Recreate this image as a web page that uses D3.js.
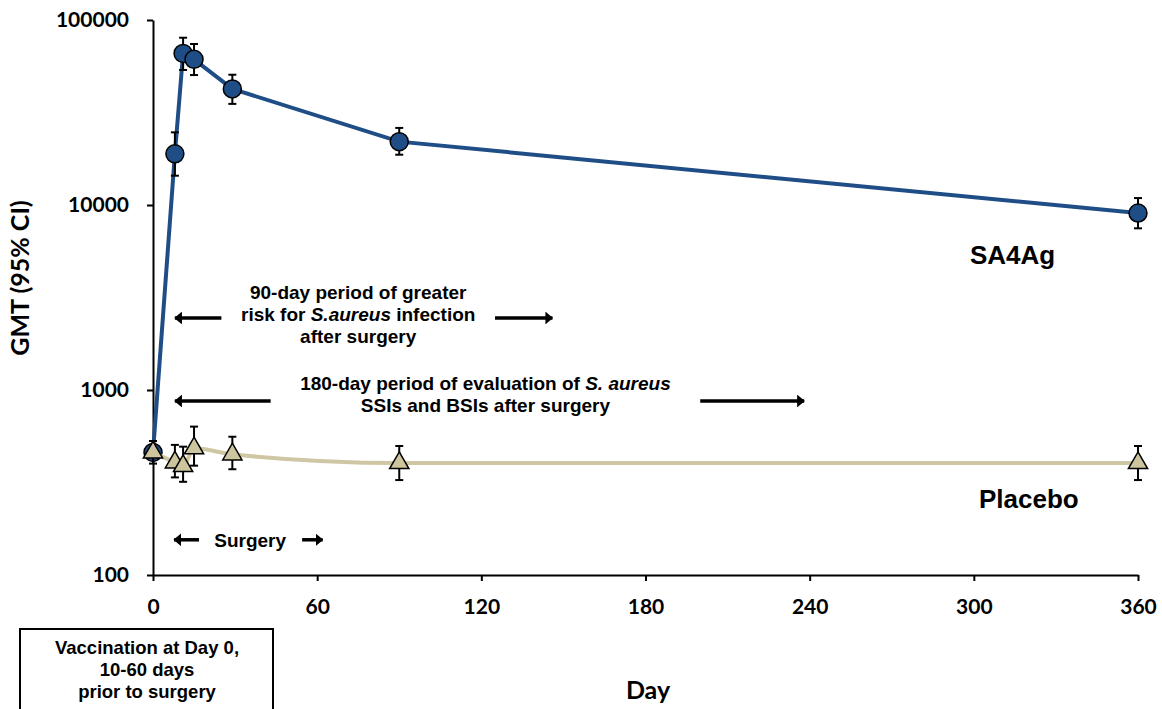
<!DOCTYPE html>
<html>
<head>
<meta charset="utf-8">
<script src="https://cdn.jsdelivr.net/npm/d3@7"></script>
<style>
  body { margin: 0; background: #fff; }
  svg text { fill: #000; }
  .tick-label { font-family: Lato, "Liberation Sans", sans-serif; font-weight: 700; font-size: 21px; }
  .note { font-family: "Liberation Sans", Arial, sans-serif; font-weight: 700; font-size: 19px; }
</style>
</head>
<body>
<svg id="chart" width="1162" height="709"></svg>
<script>
// Study days sampled
const days = [0, 8, 11, 15, 29, 90, 360];

// SA4Ag GMT with 95% CI
const sa4agGmt = [460, 18900, 66000, 61300, 42400, 22000, 9050];
const sa4agLow = [420, 14400, 53700, 50400, 35200, 18700, 7480];
const sa4agHigh = [500, 24700, 80200, 74200, 50600, 26100, 10900];

// Placebo GMT with 95% CI
const placeboGmt = [460, 406, 388, 484, 449, 403, 403];
const placeboLow = [400, 337, 319, 390, 373, 326, 326];
const placeboHigh = [530, 505, 494, 634, 559, 498, 498];

const xTicks = [0, 60, 120, 180, 240, 300, 360];
const yTicks = [100, 1000, 10000, 100000];

const BLUE = "#1f4e87";
const TAN_LINE = "#cfc6a3";
const TAN_FILL = "#cdc59d";

const svg = d3.select("#chart");

const x = d3.scaleLinear().domain([0, 360]).range([153, 1138]);
const y = d3.scaleLog().domain([100, 100000]).range([575, 20]);

const toRows = (gmt, low, high) => days.map((d, i) => ({day: d, gmt: gmt[i], low: low[i], high: high[i]}));
const sa4ag = toRows(sa4agGmt, sa4agLow, sa4agHigh);
const placebo = toRows(placeboGmt, placeboLow, placeboHigh);

// axes
const yAxis = d3.axisLeft(y).tickValues(yTicks).tickFormat(d3.format("d"))
  .tickSizeInner(6).tickSizeOuter(0).tickPadding(18);
const xAxis = d3.axisBottom(x).tickValues(xTicks).tickFormat(d3.format("d"))
  .tickSizeInner(6).tickSizeOuter(0).tickPadding(18);

const gy = svg.append("g").attr("transform", `translate(${x(0)},0)`).call(yAxis);
const gx = svg.append("g").attr("transform", `translate(0,${y(100)})`).call(xAxis);
[gx, gy].forEach(g => {
  g.selectAll("path, line").attr("stroke", "#000").attr("stroke-width", 2);
  g.selectAll("text").attr("class", "tick-label").attr("fill", "#000");
});

svg.append("text")
  .attr("class", "tick-label")
  .attr("transform", "translate(29,278) rotate(-90)")
  .attr("text-anchor", "middle")
  .style("font-size", "25px")
  .text("GMT (95% CI)");

svg.append("text")
  .attr("class", "tick-label")
  .attr("x", 648).attr("y", 699)
  .attr("text-anchor", "middle")
  .style("font-size", "25px")
  .text("Day");

// series
const drawErrors = (rows) => {
  const g = svg.append("g").attr("stroke", "#000").attr("stroke-width", 2);
  rows.forEach(r => {
    g.append("line").attr("x1", x(r.day)).attr("x2", x(r.day)).attr("y1", y(r.low)).attr("y2", y(r.high));
    [r.low, r.high].forEach(v => {
      g.append("line").attr("x1", x(r.day) - 4).attr("x2", x(r.day) + 4).attr("y1", y(v)).attr("y2", y(v));
    });
  });
};

svg.append("path")
  .datum(sa4ag)
  .attr("fill", "none")
  .attr("stroke", BLUE)
  .attr("stroke-width", 4)
  .attr("d", d3.line().x(d => x(d.day)).y(d => y(d.gmt)));

drawErrors(sa4ag);

svg.append("g").selectAll("circle")
  .data(sa4ag)
  .join("circle")
  .attr("cx", d => x(d.day))
  .attr("cy", d => y(d.gmt))
  .attr("r", 9)
  .attr("fill", BLUE)
  .attr("stroke", "#000")
  .attr("stroke-width", 1.5);

svg.append("path")
  .datum(placebo)
  .attr("fill", "none")
  .attr("stroke", TAN_LINE)
  .attr("stroke-width", 4)
  .attr("d", d3.line().x(d => x(d.day)).y(d => y(d.gmt)).curve(d3.curveMonotoneX));

drawErrors(placebo);

const tri = d3.symbol().type(d3.symbolTriangle).size(160);
svg.append("g").selectAll("path")
  .data(placebo)
  .join("path")
  .attr("transform", d => `translate(${x(d.day)},${y(d.gmt)})`)
  .attr("d", tri)
  .attr("fill", TAN_FILL)
  .attr("stroke", "#000")
  .attr("stroke-width", 1.5);

// series labels
svg.append("text").attr("class", "note").style("font-size", "26px")
  .attr("x", 970).attr("y", 264).text("SA4Ag");
svg.append("text").attr("class", "note").style("font-size", "26px")
  .attr("x", 979).attr("y", 508).text("Placebo");

// period annotations (days on x, GMT level on y)
const arrowFrom = [25, 125, 43, 200, 16.8, 54.5];
const arrowTo = [8, 146, 8, 238, 7.7, 62];
const arrowLevel = [2450, 2450, 872, 872, 155, 155];

const defs = svg.append("defs");
defs.append("marker")
  .attr("id", "head")
  .attr("viewBox", "0 0 6 10")
  .attr("refX", 5.5).attr("refY", 5)
  .attr("markerWidth", 2.2).attr("markerHeight", 3.67)
  .attr("markerUnits", "strokeWidth")
  .attr("orient", "auto")
  .append("path").attr("d", "M0,0 L6,5 L0,10 Z").attr("fill", "#000");

arrowFrom.forEach((f, i) => {
  svg.append("line")
    .attr("x1", x(f)).attr("x2", x(arrowTo[i]))
    .attr("y1", y(arrowLevel[i])).attr("y2", y(arrowLevel[i]))
    .attr("stroke", "#000").attr("stroke-width", 3.5)
    .attr("marker-end", "url(#head)");
});

const noteBlock = (day, level, lines, dy0) => {
  const t = svg.append("text").attr("class", "note").attr("text-anchor", "middle");
  lines.forEach((parts, i) => {
    const ts = t.append("tspan").attr("x", x(day)).attr("y", y(level) + dy0 + i * 22);
    parts.forEach(p => ts.append("tspan").style("font-style", p.i ? "italic" : null).text(p.t));
  });
};

noteBlock(75, 2450, [
  [{t: "90-day period of greater"}],
  [{t: "risk for "}, {t: "S.aureus", i: true}, {t: " infection"}],
  [{t: "after surgery"}]
], -19);

noteBlock(121.5, 872, [
  [{t: "180-day period of evaluation of "}, {t: "S. aureus", i: true}],
  [{t: "SSIs and BSIs after surgery"}]
], -11);

noteBlock(35.5, 155, [[{t: "Surgery"}]], 7);

// vaccination box
svg.append("rect")
  .attr("x", 20).attr("y", 629).attr("width", 253).attr("height", 100)
  .attr("fill", "#fff").attr("stroke", "#000").attr("stroke-width", 2);
const box = svg.append("text").attr("class", "note").attr("text-anchor", "middle").style("font-size", "18.5px");
["Vaccination at Day 0,", "10-60 days", "prior to surgery"].forEach((s, i) => {
  box.append("tspan").attr("x", 147).attr("y", 654 + i * 22).text(s);
});
</script>
</body>
</html>
